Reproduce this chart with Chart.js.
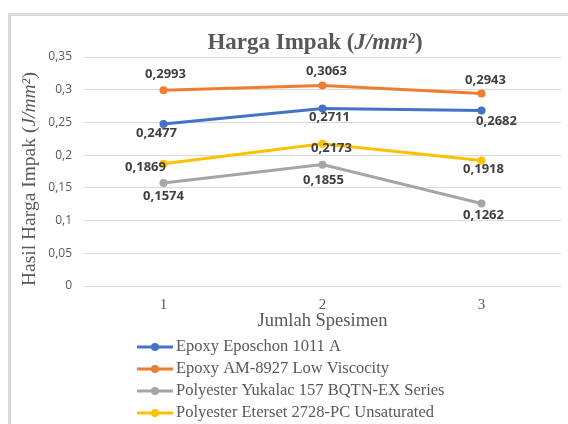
<!DOCTYPE html>
<html>
<head>
<meta charset="utf-8">
<script src="https://cdn.jsdelivr.net/npm/chart.js@4.4.1/dist/chart.umd.min.js"></script>
<style>
  html, body { margin: 0; padding: 0; background: #fff; }
  #wrap { position: relative; width: 568px; height: 424px; overflow: hidden; }
  #frame { position: absolute; left: 8px; top: 13px; width: 600px; height: 500px;
           border-left: 3px solid #d9d9d9; border-top: 3px solid #d9d9d9; }
  canvas { position: absolute; left: 0; top: 0; }
</style>
</head>
<body>
<div id="wrap">
  <div id="frame"></div>
  <canvas id="chart" width="568" height="424"></canvas>
</div>
<script>
// data
const specimens = ['1', '2', '3'];
const seriesNames = [
  'Epoxy Eposchon 1011 A',
  'Epoxy AM-8927 Low Viscocity',
  'Polyester Yukalac 157 BQTN-EX Series',
  'Polyester Eterset 2728-PC Unsaturated'
];
const eposchon = [0.2477, 0.2711, 0.2682];
const am8927 = [0.2993, 0.3063, 0.2943];
const yukalac = [0.1574, 0.1855, 0.1262];
const eterset = [0.1869, 0.2173, 0.1918];
const yTickLabels = ['0', '0,05', '0,1', '0,15', '0,2', '0,25', '0,3', '0,35'];

// styling
const colors = ['#4472C4', '#ED7D31', '#A5A5A5', '#FFC000'];
const textGray = '#595959';
const serif = '"Liberation Serif", "Times New Roman", serif';
const sans = '"Open Sans", "Liberation Sans", sans-serif';
// where each value label sits relative to its point (dx, dy)
const labelShift = [
  [[-7, 9], [7, 9], [15, 11]],
  [[2, -16], [4, -14], [4, -13]],
  [[0, 13], [1, 16], [2, 12]],
  [[-18, 4], [9, 4], [2, 9]]
];

const fmt = v => String(v).replace('.', ',');

// draw text made of plain/italic pieces
function richText(ctx, parts, size, weight) {
  let w = 0;
  parts.forEach(p => {
    ctx.font = (p.italic ? 'italic ' : '') + weight + ' ' + size + 'px ' + serif;
    p.w = ctx.measureText(p.t).width;
    w += p.w;
  });
  return { w, draw(x, y) {
    parts.forEach(p => {
      ctx.font = (p.italic ? 'italic ' : '') + weight + ' ' + size + 'px ' + serif;
      ctx.fillText(p.t, x, y);
      x += p.w;
    });
  }};
}

const decorations = {
  id: 'decorations',
  afterDatasetsDraw(chart) {
    const ctx = chart.ctx;
    ctx.save();
    // value labels
    ctx.font = 'bold 13px ' + sans;
    ctx.fillStyle = '#404040';
    ctx.textAlign = 'center';
    ctx.textBaseline = 'middle';
    chart.data.datasets.forEach((ds, i) => {
      chart.getDatasetMeta(i).data.forEach((pt, j) => {
        const s = labelShift[i][j];
        ctx.fillText(fmt(ds.data[j]), pt.x + s[0], pt.y + s[1]);
      });
    });
    ctx.restore();
  },
  afterDraw(chart) {
    const ctx = chart.ctx;
    const area = chart.chartArea;
    ctx.save();
    ctx.fillStyle = textGray;
    ctx.textBaseline = 'middle';
    ctx.textAlign = 'left';

    // chart title
    const title = richText(ctx, [
      { t: 'Harga Impak (' }, { t: 'J/mm²', italic: true }, { t: ')' }
    ], 23, 'bold');
    title.draw(315 - title.w / 2, 43);

    // y axis title, rotated, starting at the bottom of the plot
    ctx.save();
    ctx.translate(30, area.bottom);
    ctx.rotate(-Math.PI / 2);
    const yt = richText(ctx, [
      { t: 'Hasil Harga Impak (' }, { t: 'J/mm²', italic: true }, { t: ')' }
    ], 19.5, 'normal');
    yt.draw(0, 0);
    ctx.restore();

    // legend, one entry per row
    chart.data.datasets.forEach((ds, i) => {
      const y = 347 + i * 22;
      ctx.strokeStyle = ds.borderColor;
      ctx.lineWidth = 3;
      ctx.beginPath();
      ctx.moveTo(137, y);
      ctx.lineTo(173, y);
      ctx.stroke();
      ctx.fillStyle = ds.borderColor;
      ctx.beginPath();
      ctx.arc(155, y, 4, 0, Math.PI * 2);
      ctx.fill();
      ctx.fillStyle = textGray;
      ctx.font = '16.5px ' + serif;
      ctx.fillText(ds.label, 176, y);
    });
    ctx.restore();
  }
};

const allSeries = [eposchon, am8927, yukalac, eterset];

new Chart(document.getElementById('chart'), {
  type: 'line',
  data: {
    labels: specimens,
    datasets: allSeries.map((vals, i) => ({
      label: seriesNames[i],
      data: vals,
      borderColor: colors[i],
      backgroundColor: colors[i],
      borderWidth: 3,
      pointRadius: 4,
      pointBorderWidth: 0,
      tension: 0
    }))
  },
  options: {
    responsive: false,
    devicePixelRatio: 1,
    animation: false,
    layout: { padding: { top: 57, right: 7, bottom: 92, left: 0 } },
    plugins: {
      legend: { display: false },
      title: { display: false },
      tooltip: { enabled: false }
    },
    scales: {
      x: {
        offset: true,
        grid: { display: false, drawTicks: false },
        border: { display: false },
        ticks: { color: textGray, padding: 10, font: { family: serif, size: 15 } },
        title: {
          display: true,
          text: 'Jumlah Spesimen',
          color: textGray,
          padding: { top: 0, bottom: 0 },
          font: { family: serif, size: 18.5 }
        },
        afterFit: s => { s.height = 46; }
      },
      y: {
        min: 0,
        max: 0.35,
        grid: { color: '#d9d9d9', lineWidth: 1, drawTicks: false },
        border: { display: false },
        ticks: {
          stepSize: 0.05,
          padding: 12,
          color: textGray,
          font: { family: sans, size: 12 },
          callback: (v, i) => yTickLabels[i]
        },
        afterFit: s => { s.width = 84; }
      }
    }
  },
  plugins: [decorations]
});
</script>
</body>
</html>
